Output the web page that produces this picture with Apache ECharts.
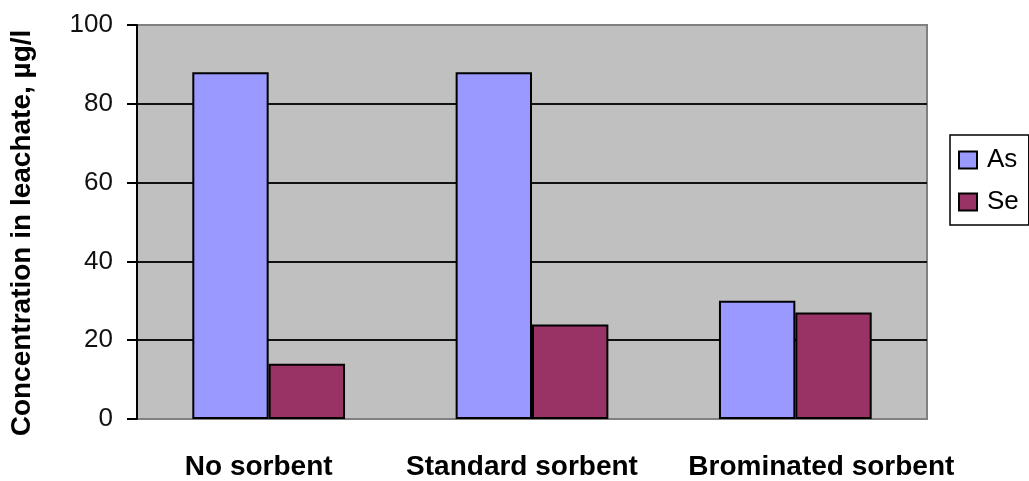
<!DOCTYPE html>
<html>
<head>
<meta charset="utf-8">
<title>Concentration in leachate</title>
<script src="https://cdn.jsdelivr.net/npm/echarts@6/dist/echarts.min.js"></script>
<style>
  html, body { margin: 0; padding: 0; background: #fff; }
  #chart { width: 1029px; height: 481px; }
</style>
</head>
<body>
<div id="chart"></div>
<script>
// Leachate concentrations (µg/l) for each sorbent treatment
const categories = ['No sorbent', 'Standard sorbent', 'Brominated sorbent'];
const asValues = [88, 88, 30];
const seValues = [14, 24, 27];
const yTicks = { min: 0, max: 100, interval: 20 };

const FONT = '"Liberation Sans", Arial, sans-serif';

// small horizontal nudges for the category captions
const labelPadding = [[0, 20, 0, 0], [0, 20, 0, 0], [0, 0, 0, 52]];

const chart = echarts.init(document.getElementById('chart'), null, { renderer: 'canvas' });

chart.setOption({
  animation: false,
  backgroundColor: '#ffffff',
  grid: {
    left: 137, right: 102, top: 25, bottom: 59,
    show: true,
    backgroundColor: '#c0c0c0',
    borderColor: '#808080',
    borderWidth: 2
  },
  legend: {
    orient: 'vertical',
    left: 950, top: 135,
    padding: [12, 10, 10, 8],
    icon: 'rect',
    itemWidth: 18, itemHeight: 17,
    itemGap: 16,
    backgroundColor: '#ffffff',
    borderColor: '#000000',
    borderWidth: 1.5,
    borderRadius: 0,
    textStyle: { fontFamily: FONT, fontSize: 26, color: '#000', padding: [0, 0, 0, 5] },
    data: ['As', 'Se']
  },
  xAxis: {
    type: 'category',
    data: categories.map((c, i) => ({
      value: c,
      textStyle: { padding: labelPadding[i] }
    })),
    axisLine: { show: false },
    axisTick: { show: false },
    axisLabel: {
      interval: 0,
      margin: 34,
      fontFamily: FONT, fontSize: 28, fontWeight: 'bold', color: '#000'
    }
  },
  yAxis: {
    type: 'value',
    min: yTicks.min, max: yTicks.max, interval: yTicks.interval,
    name: 'Concentration in leachate, µg/l',
    nameLocation: 'middle',
    nameGap: 101,
    nameTextStyle: {
      fontFamily: FONT, fontSize: 28, fontWeight: 'bold', color: '#000',
      padding: [0, 22, 0, 0]
    },
    axisLine: { show: true, lineStyle: { color: '#000', width: 2 } },
    axisTick: { show: true, inside: false, length: 10, lineStyle: { color: '#000', width: 2 } },
    axisLabel: {
      margin: 24,
      fontFamily: FONT, fontSize: 26, color: '#111'
    },
    splitLine: {
      show: true,
      lineStyle: {
        color: ['#808080', '#111', '#111', '#111', '#111', '#808080'],
        width: 2
      }
    }
  },
  series: [
    {
      name: 'As',
      type: 'bar',
      data: asValues,
      barGap: '0%',
      barCategoryGap: '42%',
      itemStyle: { color: '#9999ff', borderColor: '#000', borderWidth: 2 }
    },
    {
      name: 'Se',
      type: 'bar',
      data: seValues,
      barGap: '0%',
      barCategoryGap: '42%',
      itemStyle: { color: '#993366', borderColor: '#000', borderWidth: 2 }
    }
  ]
});
</script>
</body>
</html>
